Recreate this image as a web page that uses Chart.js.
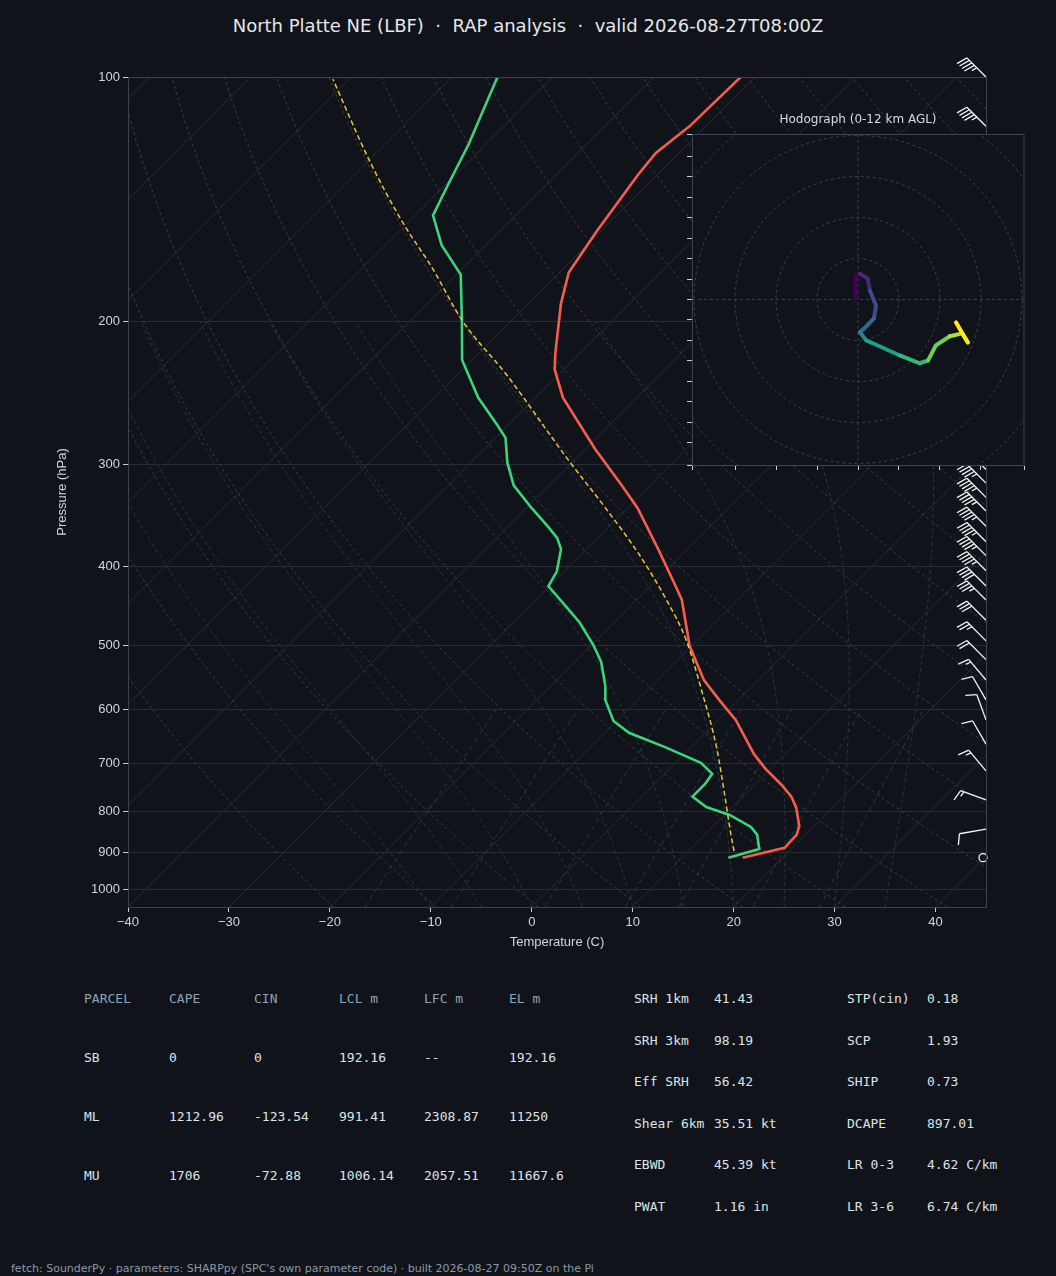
<!DOCTYPE html>
<html>
<head>
<meta charset="utf-8">
<script src="https://cdn.jsdelivr.net/npm/chart.js@4"></script>
<style>
  body { margin: 0; background: #10141a; width: 1056px; height: 1276px; position: relative; overflow: hidden; font-family: "DejaVu Sans", sans-serif; }
  #title { position: absolute; top: 15px; left: 0; width: 1056px; text-align: center; color: #e4e8ec; font-size: 18px; }
  #main { position: absolute; left: 0; top: 0; }
  #hodoTitle { position: absolute; left: 692px; width: 332px; top: 112px; text-align: center; color: #d6dbe0; font-size: 12px; }
  #hodo { position: absolute; left: 672px; top: 134px; }
  .t { position: absolute; font-family: "DejaVu Sans Mono", monospace; font-size: 13px; color: #dde2e7; white-space: pre; }
  .h { color: #8fa3b8; }
  #foot { position: absolute; left: 11px; top: 1262px; font-size: 11px; color: #8d99a6; }
</style>
</head>
<body>
<div id="title">North Platte NE (LBF) &nbsp;·&nbsp; RAP analysis &nbsp;·&nbsp; valid 2026-08-27T08:00Z</div>
<canvas id="main" width="1056" height="960"></canvas>
<div id="hodoTitle">Hodograph (0-12 km AGL)</div>
<canvas id="hodo" width="353" height="341"></canvas>
<div id="table"></div>
<div id="foot">fetch: SounderPy · parameters: SHARPpy (SPC's own parameter code) · built 2026-08-27 09:50Z on the Pi</div>
<script>
// sounding profiles (hPa, degC)
const tempP = [913, 888, 856, 835, 793, 768, 741, 710, 681, 618, 586, 552, 501, 440, 423, 383, 339, 318, 287, 248, 229, 219, 190, 174, 155, 132, 124, 115, 100];
const tempC = [16.0, 19.2, 19.1, 18.5, 16.4, 14.8, 12.5, 9.5, 6.9, 1.7, -1.7, -5.4, -10.2, -15.5, -17.5, -22.6, -29.0, -32.8, -39.0, -47.3, -50.9, -52.4, -56.8, -59.1, -60.4, -61.9, -62.3, -61.6, -61.4];
const dewP = [913, 891, 856, 837, 809, 791, 768, 741, 720, 698, 667, 641, 620, 584, 561, 524, 500, 469, 447, 423, 406, 381, 369, 357, 339, 318, 298, 278, 268, 248, 223, 199, 175, 161, 148, 136, 121, 100];
const dewC = [14.6, 16.8, 15.2, 13.8, 10.5, 7.4, 5.0, 5.0, 4.7, 2.5, -2.7, -7.6, -10.3, -13.2, -14.6, -17.4, -19.8, -23.4, -26.5, -30.1, -30.7, -32.5, -34.0, -36.1, -39.5, -43.5, -46.4, -49.0, -51.1, -55.7, -61.0, -65.0, -69.6, -74.4, -78.2, -79.7, -81.7, -85.5];
const parcelP = [896, 856, 762, 671, 571, 494, 441, 387, 340, 294, 233, 199, 172, 151, 127, 100.6];
const parcelC = [14.5, 12.6, 7.9, 2.7, -4.4, -11.0, -16.9, -24.2, -32.0, -41.0, -55.0, -65.0, -73.0, -80.5, -89.8, -101.6];

// wind barbs (hPa, deg from, kt)
const windP = [913, 842, 775, 714, 662, 618, 584, 552, 521, 494, 466, 440, 423, 405, 388, 373, 357, 342, 329, 316, 304, 290, 270, 250, 230, 210, 190, 170, 150, 130, 115, 100];
const windDir = [0, 260, 290, 320, 330, 340, 330, 320, 315, 315, 315, 315, 315, 315, 315, 315, 315, 315, 315, 315, 315, 315, 315, 315, 315, 315, 315, 315, 315, 315, 315, 315];
const windSpd = [0, 10, 15, 15, 10, 10, 10, 15, 20, 25, 30, 35, 40, 45, 45, 45, 45, 45, 45, 45, 45, 45, 45, 45, 45, 45, 45, 45, 45, 45, 45, 45];

// hodograph (kt)
const hodoU = [-0.5, -0.5, 0.5, 2.4, 2.9, 4.4, 3.9, 2.0, 0.5, 2.0, 5.4, 10.2, 15.1, 17.1, 19.0, 22.4, 25.4, 26.8, 23.9];
const hodoV = [0.2, 5.9, 6.3, 5.1, 2.2, -1.5, -4.6, -6.6, -8.0, -10.0, -11.5, -13.7, -15.6, -14.9, -11.2, -9.0, -8.3, -10.5, -5.6];

const yTicks = [100, 200, 300, 400, 500, 600, 700, 800, 900, 1000];
const xTicks = [-40, -30, -20, -10, 0, 10, 20, 30, 40];

const PBOT = 1050;
const SKEW = 80.4; // degC of x shift per decade of pressure (45 deg on screen)
const skewX = (t, p) => t + SKEW * Math.log10(PBOT / p);
const pts = (ps, ts) => ps.map((p, i) => ({ x: skewX(ts[i], p), y: p }));

function esat(tc) { return 6.112 * Math.exp(17.67 * tc / (tc + 243.5)); }

const background = {
  id: 'background',
  beforeDatasetsDraw(chart) {
    const { ctx, chartArea: a, scales: { x, y } } = chart;
    ctx.save();
    ctx.beginPath(); ctx.rect(a.left, a.top, a.right - a.left, a.bottom - a.top); ctx.clip();
    const line = (fn, p0, p1, color, dash) => {
      ctx.strokeStyle = color; ctx.setLineDash(dash); ctx.lineWidth = 1; ctx.beginPath();
      let first = true;
      for (let p = p0; p >= p1; p -= 10) {
        const t = fn(p);
        const px = x.getPixelForValue(skewX(t, p)), py = y.getPixelForValue(p);
        first ? ctx.moveTo(px, py) : ctx.lineTo(px, py); first = false;
      }
      ctx.stroke();
    };
    for (let t = -150; t <= 50; t += 10) line(() => t, PBOT, 100, '#272e37', []);
    for (let th = 250; th <= 470; th += 10) line(p => th * Math.pow(p / 1000, 0.2857) - 273.15, PBOT, 100, '#463d30', [3, 3]);
    // moist adiabats
    for (let t0 = -10; t0 <= 35; t0 += 5) {
      const rows = [];
      let T = t0 + 273.15;
      for (let p = 1050; p >= 200; p -= 5) {
        rows.push([p, T - 273.15]);
        const es = esat(T - 273.15), rs = 0.622 * es / (p - es);
        const dTdp = (287 * T + 2.5e6 * rs) / (p * (1005 + 2.5e6 * 2.5e6 * rs * 0.622 / (287 * T * T)));
        T -= dTdp * 5;
      }
      ctx.strokeStyle = '#1f3a44'; ctx.setLineDash([4, 3]); ctx.beginPath();
      rows.forEach(([p, t], i) => { const px = x.getPixelForValue(skewX(t, p)), py = y.getPixelForValue(p); i ? ctx.lineTo(px, py) : ctx.moveTo(px, py); });
      ctx.stroke();
    }
    for (const w of [1, 2, 4, 7, 10, 16, 24]) {
      line(p => { const e = p * w / (622 + w), l = Math.log(e / 6.112); return 243.5 * l / (17.67 - l); }, PBOT, 600, '#2b3848', [5, 4]);
    }
    ctx.restore();
  },
  afterDraw(chart) {
    const { ctx, chartArea: a, scales: { y } } = chart;
    ctx.save();
    ctx.strokeStyle = '#f2f4f6'; ctx.fillStyle = '#f2f4f6'; ctx.lineWidth = 1.3; ctx.setLineDash([]);
    windP.forEach((p, i) => {
      const bx = a.right, by = y.getPixelForValue(p);
      let s = windSpd[i];
      if (s < 2.5) { ctx.beginPath(); ctx.arc(bx - 3, by, 4, 0, 2 * Math.PI); ctx.stroke(); return; }
      const r = windDir[i] * Math.PI / 180;
      const dx = Math.sin(r), dy = -Math.cos(r); // toward source
      const nx = dy, ny = -dx; // feather side
      const L = 27;
      ctx.beginPath(); ctx.moveTo(bx, by); ctx.lineTo(bx + dx * L, by + dy * L); ctx.stroke();
      let pos = L; s = Math.round(s / 5) * 5;
      while (s >= 50) {
        ctx.beginPath();
        ctx.moveTo(bx + dx * pos, by + dy * pos);
        ctx.lineTo(bx + dx * (pos - 4) + nx * 10, by + dy * (pos - 4) + ny * 10);
        ctx.lineTo(bx + dx * (pos - 8), by + dy * (pos - 8));
        ctx.fill(); pos -= 9; s -= 50;
      }
      while (s >= 10) {
        ctx.beginPath(); ctx.moveTo(bx + dx * pos, by + dy * pos);
        ctx.lineTo(bx + dx * (pos + 3) + nx * 11, by + dy * (pos + 3) + ny * 11); ctx.stroke();
        pos -= 3.5; s -= 10;
      }
      if (s >= 5) {
        if (pos === L) pos -= 3.5;
        ctx.beginPath(); ctx.moveTo(bx + dx * pos, by + dy * pos);
        ctx.lineTo(bx + dx * (pos + 1.5) + nx * 5.5, by + dy * (pos + 1.5) + ny * 5.5); ctx.stroke();
      }
    });
    ctx.restore();
  }
};

const tickColor = '#d0d5db';
new Chart(document.getElementById('main'), {
  type: 'scatter',
  data: {
    datasets: [
      { data: pts(parcelP, parcelC), borderColor: '#f0c040', borderWidth: 1.5, borderDash: [5, 3], showLine: true, pointRadius: 0, cubicInterpolationMode: 'monotone' },
      { data: pts(dewP, dewC), borderColor: '#3ed27c', borderWidth: 2.6, showLine: true, pointRadius: 0 },
      { data: pts(tempP, tempC), borderColor: '#f65d4c', borderWidth: 2.6, showLine: true, pointRadius: 0 }
    ]
  },
  options: {
    responsive: false, animation: false,
    layout: { padding: { top: 77, right: 70, bottom: 10, left: 55 } },
    plugins: { legend: { display: false }, tooltip: { enabled: false } },
    scales: {
      x: {
        type: 'linear', min: -40, max: 45,
        afterBuildTicks: s => { s.ticks = xTicks.map(v => ({ value: v })); },
        afterFit: s => { s.height = 43; },
        ticks: { color: tickColor, font: { size: 13 }, callback: v => String(v).replace('-', '\u2212') },
        grid: { drawOnChartArea: false, color: '#c8ced6', tickLength: 5 },
        border: { color: '#3a4350' },
        title: { display: true, text: 'Temperature (C)', color: tickColor, font: { size: 13 }, padding: 0 }
      },
      y: {
        type: 'logarithmic', reverse: true, min: 100, max: PBOT,
        afterBuildTicks: s => { s.ticks = yTicks.map(v => ({ value: v })); },
        afterFit: s => { s.width = 73; },
        ticks: { color: tickColor, font: { size: 13 }, callback: v => String(v) },
        grid: { color: '#262d36', tickColor: '#c8ced6', tickLength: 5 },
        border: { color: '#3a4350' },
        title: { display: true, text: 'Pressure (hPa)', color: tickColor, font: { size: 13 }, padding: 0 }
      }
    }
  },
  plugins: [background, {
    id: 'rightBorder',
    afterDraw(chart) {
      const { ctx, chartArea: a } = chart;
      ctx.save(); ctx.strokeStyle = '#3a4350'; ctx.lineWidth = 1;
      ctx.strokeRect(a.left + 0.5, a.top + 0.5, a.right - a.left, a.bottom - a.top); ctx.restore();
    }
  }]
});

// hodograph inset
const viridis = ['#440154', '#482878', '#3e4a89', '#31688e', '#26828e', '#1f9e89', '#35b779', '#6ece58', '#b5de2b', '#fde725'];
const hodoRings = [10, 20, 30, 40, 50];
new Chart(document.getElementById('hodo'), {
  type: 'scatter',
  data: { datasets: [{
    data: hodoU.map((u, i) => ({ x: u, y: hodoV[i] })), showLine: true, pointRadius: 0, borderWidth: 4, borderCapStyle: 'round',
    segment: { borderColor: c => viridis[Math.min(9, Math.floor(c.p0DataIndex / (hodoU.length - 1) * 10))] }
  }] },
  options: {
    responsive: false, animation: false,
    layout: { padding: { right: 1 } },
    plugins: { legend: { display: false }, tooltip: { enabled: false } },
    scales: {
      x: { min: -40.5, max: 40.5, afterFit: s => { s.height = 10; }, ticks: { display: false, stepSize: 10 },
           grid: { drawOnChartArea: false, color: '#c8ced6', tickLength: 5 }, border: { color: '#3a4350' } },
      y: { min: -40.5, max: 40.5, afterFit: s => { s.width = 20; }, ticks: { display: false, stepSize: 5 },
           grid: { drawOnChartArea: false, color: '#c8ced6', tickLength: 5 }, border: { color: '#3a4350' } }
    }
  },
  plugins: [{
    id: 'rings',
    beforeDraw(chart) {
      const { ctx, chartArea: a, scales: { x, y } } = chart;
      ctx.save();
      ctx.fillStyle = '#10141a'; ctx.fillRect(a.left, a.top, a.right - a.left, a.bottom - a.top);
      ctx.beginPath(); ctx.rect(a.left, a.top, a.right - a.left, a.bottom - a.top); ctx.clip();
      const cx = x.getPixelForValue(0), cy = y.getPixelForValue(0);
      ctx.strokeStyle = '#3a4350'; ctx.setLineDash([3, 3]); ctx.lineWidth = 1;
      hodoRings.forEach(r => { ctx.beginPath(); ctx.arc(cx, cy, x.getPixelForValue(r) - cx, 0, 2 * Math.PI); ctx.stroke(); });
      ctx.beginPath(); ctx.moveTo(a.left, cy); ctx.lineTo(a.right, cy); ctx.moveTo(cx, a.top); ctx.lineTo(cx, a.bottom); ctx.stroke();
      ctx.restore();
    },
    afterDraw(chart) {
      const { ctx, chartArea: a } = chart;
      ctx.save(); ctx.strokeStyle = '#3a4350'; ctx.strokeRect(a.left + 0.5, a.top + 0.5, a.right - a.left - 0.5, a.bottom - a.top); ctx.restore();
    }
  }]
});

// parameter table
const parcelHead = ['PARCEL', 'CAPE', 'CIN', 'LCL m', 'LFC m', 'EL m'];
const parcelRows = [
  ['SB', '0', '0', '192.16', '--', '192.16'],
  ['ML', '1212.96', '-123.54', '991.41', '2308.87', '11250'],
  ['MU', '1706', '-72.88', '1006.14', '2057.51', '11667.6']
];
const kinLabels = ['SRH 1km', 'SRH 3km', 'Eff SRH', 'Shear 6km', 'EBWD', 'PWAT'];
const kinValues = ['41.43', '98.19', '56.42', '35.51 kt', '45.39 kt', '1.16 in'];
const compLabels = ['STP(cin)', 'SCP', 'SHIP', 'DCAPE', 'LR 0-3', 'LR 3-6'];
const compValues = ['0.18', '1.93', '0.73', '897.01', '4.62 C/km', '6.74 C/km'];

let html = '';
const cell = (x, y, txt, cls) => { html += `<div class="t ${cls || ''}" style="left:${x}px;top:${y - 8}px">${txt}</div>`; };
const colX = [84, 169, 254, 339, 424, 509];
parcelHead.forEach((h, i) => cell(colX[i], 999, h, 'h'));
parcelRows.forEach((r, j) => r.forEach((v, i) => cell(colX[i], 1058 + j * 59, v)));
kinLabels.forEach((l, i) => { const y = 999 + i * 41.6; cell(634, y, l); cell(714, y, kinValues[i]); });
compLabels.forEach((l, i) => { const y = 999 + i * 41.6; cell(847, y, l); cell(927, y, compValues[i]); });
document.getElementById('table').innerHTML = html;
</script>
</body>
</html>
